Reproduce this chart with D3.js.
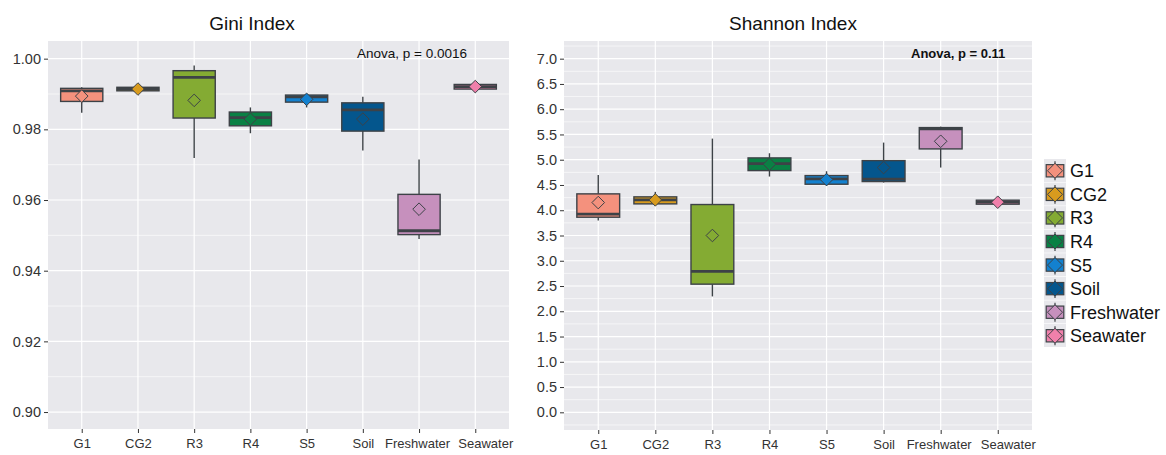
<!DOCTYPE html>
<html><head><meta charset="utf-8">
<script src="https://cdn.jsdelivr.net/npm/d3@7"></script>
<style>
body{margin:0;background:#fff;}
text{font-family:"Liberation Sans",Arial,Helvetica,sans-serif;}
</style></head>
<body><svg id="chart" width="1166" height="455"></svg>
<script>
const categories = ["G1","CG2","R3","R4","S5","Soil","Freshwater","Seawater"];
const colors = ["#F4917D","#D89B1E","#84AB33","#0A8044","#1381CF","#04568D","#C690BD","#F080AB"];

const giniLower  = [0.9847,0.9909,0.9719,0.9789,0.9862,0.9740,0.9490,0.9914];
const giniQ1     = [0.9879,0.9909,0.9832,0.9810,0.9877,0.9795,0.9502,0.9914];
const giniMedian = [0.9909,0.9914,0.9947,0.9833,0.9892,0.9855,0.9513,0.9921];
const giniQ3     = [0.9916,0.9919,0.9966,0.9849,0.9897,0.9875,0.9616,0.9927];
const giniUpper  = [0.9919,0.9919,0.9981,0.9862,0.9900,0.9892,0.9715,0.9927];
const giniMean   = [0.9894,0.9914,0.9882,0.9829,0.9885,0.9829,0.9574,0.9921];

const shanLower  = [3.796,4.093,2.294,4.667,4.482,4.548,4.845,4.120];
const shanQ1     = [3.862,4.126,2.537,4.785,4.515,4.568,5.214,4.120];
const shanMedian = [3.922,4.205,2.788,4.924,4.620,4.614,5.609,4.159];
const shanQ3     = [4.324,4.265,4.113,5.036,4.686,4.983,5.636,4.199];
const shanUpper  = [4.700,4.364,5.418,5.128,4.772,5.339,5.655,4.199];
const shanMean   = [4.152,4.205,3.500,4.911,4.607,4.845,5.365,4.159];

const giniTicks = [0.90,0.92,0.94,0.96,0.98,1.00];
const giniMinor = [0.91,0.93,0.95,0.97,0.99];
const shanTicks = [0,0.5,1,1.5,2,2.5,3,3.5,4,4.5,5,5.5,6,6.5,7];
const shanMinor = [-0.25,0.25,0.75,1.25,1.75,2.25,2.75,3.25,3.75,4.25,4.75,5.25,5.75,6.25,6.75,7.25];

const svg = d3.select("#chart");
const BG = "#E8E8EC", LINE = "#3d4247";

function panel(cfg){
  const g = svg.append("g");
  const x = d3.scalePoint().domain(categories).range([cfg.x0,cfg.x1]).padding(0.6);
  const y = d3.scaleLinear().domain(cfg.domain).range([cfg.y1,cfg.y0]);
  g.append("rect").attr("x",cfg.x0).attr("y",cfg.y0).attr("width",cfg.x1-cfg.x0).attr("height",cfg.y1-cfg.y0).attr("fill",BG);
  g.selectAll(".minor").data(cfg.minor).join("line")
    .attr("x1",cfg.x0).attr("x2",cfg.x1).attr("y1",d=>y(d)).attr("y2",d=>y(d))
    .attr("stroke","#fff").attr("stroke-width",0.6);
  g.selectAll(".major").data(cfg.ticks).join("line")
    .attr("x1",cfg.x0).attr("x2",cfg.x1).attr("y1",d=>y(d)).attr("y2",d=>y(d))
    .attr("stroke","#fff").attr("stroke-width",1.2);
  g.selectAll(".vmajor").data(categories).join("line")
    .attr("x1",d=>x(d)).attr("x2",d=>x(d)).attr("y1",cfg.y0).attr("y2",cfg.y1)
    .attr("stroke","#fff").attr("stroke-width",1.2);

  const yAxis = d3.axisLeft(y).tickValues(cfg.ticks).tickFormat(d3.format(cfg.fmt)).tickSize(4).tickPadding(3);
  const ya = g.append("g").attr("transform",`translate(${cfg.x0},0)`).call(yAxis);
  ya.select(".domain").remove();
  ya.selectAll("line").attr("stroke","#333");
  ya.selectAll("text").attr("font-size",cfg.yfs).attr("fill","#333");
  const xAxis = d3.axisBottom(x).tickSize(4).tickPadding(6);
  const xa = g.append("g").attr("transform",`translate(0,${cfg.y1})`).call(xAxis);
  xa.select(".domain").remove();
  xa.selectAll("line").attr("stroke","#333");
  xa.selectAll("text").attr("font-size",13).attr("fill","#333")
    .attr("dx",c=>c==="Seawater"?10:(c==="Freshwater"?-2:0));

  const bw = x.step()*0.75;
  const d = categories.map((c,i)=>({c,i,lo:cfg.lo[i],q1:cfg.q1[i],med:cfg.med[i],q3:cfg.q3[i],hi:cfg.hi[i],mean:cfg.mean[i]}));
  const bx = g.selectAll(".box").data(d).join("g");
  bx.append("line").attr("x1",e=>x(e.c)).attr("x2",e=>x(e.c)).attr("y1",e=>y(e.hi)).attr("y2",e=>y(e.q3)).attr("stroke",LINE).attr("stroke-width",1.4);
  bx.append("line").attr("x1",e=>x(e.c)).attr("x2",e=>x(e.c)).attr("y1",e=>y(e.q1)).attr("y2",e=>y(e.lo)).attr("stroke",LINE).attr("stroke-width",1.4);
  bx.append("rect").attr("x",e=>x(e.c)-bw/2).attr("width",bw)
    .attr("y",e=>y(e.q3)).attr("height",e=>Math.max(0.5,y(e.q1)-y(e.q3)))
    .attr("fill",e=>colors[e.i]).attr("stroke",LINE).attr("stroke-width",1.4);
  bx.append("line").attr("x1",e=>x(e.c)-bw/2).attr("x2",e=>x(e.c)+bw/2).attr("y1",e=>y(e.med)).attr("y2",e=>y(e.med)).attr("stroke",LINE).attr("stroke-width",2.8);
  bx.append("path").attr("d",e=>{const cx=x(e.c),cy=y(e.mean),r=6.3;return `M${cx},${cy-r}L${cx+r},${cy}L${cx},${cy+r}L${cx-r},${cy}Z`;})
    .attr("fill",e=>colors[e.i]).attr("stroke",LINE).attr("stroke-width",1);

  svg.append("text").attr("x",cfg.titleX).attr("y",29.5).attr("text-anchor","middle").attr("font-size",19).attr("fill","#111").text(cfg.title);
  svg.append("text").attr("x",cfg.annX).attr("y",58).attr("font-size",cfg.annFs).attr("font-weight",cfg.annW).attr("fill","#111").text(cfg.ann);
}

panel({x0:48,x1:509,y0:41,y1:429,domain:[0.8952,1.005],ticks:giniTicks,minor:giniMinor,fmt:".2f",yfs:14.5,
  lo:giniLower,q1:giniQ1,med:giniMedian,q3:giniQ3,hi:giniUpper,mean:giniMean,
  title:"Gini Index",titleX:252,ann:"Anova, p = 0.0016",annX:357,annFs:13.5,annW:"normal"});
panel({x0:564,x1:1032,y0:41,y1:430,domain:[-0.35,7.35],ticks:shanTicks,minor:shanMinor,fmt:".1f",yfs:14.5,
  lo:shanLower,q1:shanQ1,med:shanMedian,q3:shanQ3,hi:shanUpper,mean:shanMean,
  title:"Shannon Index",titleX:793,ann:"Anova, p = 0.11",annX:911,annFs:13,annW:"bold"});

// legend
const rowH = 23.57, ly0 = 159, kx = 1044, kw = 22;
const lg = svg.append("g");
const items = lg.selectAll("g").data(categories).join("g").attr("transform",(c,i)=>`translate(${kx},${ly0+i*rowH})`);
items.append("rect").attr("width",kw).attr("height",rowH-0.6).attr("fill",BG);
items.append("line").attr("x1",kw/2).attr("x2",kw/2).attr("y1",rowH*0.1).attr("y2",rowH*0.9).attr("stroke",LINE).attr("stroke-width",1.2);
items.append("rect").attr("x",kw*0.1).attr("width",kw*0.8).attr("y",rowH*0.24).attr("height",rowH*0.52)
  .attr("fill",(c,i)=>colors[i]).attr("stroke",LINE).attr("stroke-width",1.2);
items.append("path").attr("d",()=>{const cx=kw/2,cy=rowH/2,r=7.5;return `M${cx},${cy-r}L${cx+r},${cy}L${cx},${cy+r}L${cx-r},${cy}Z`;})
  .attr("fill",(c,i)=>colors[i]).attr("stroke",LINE).attr("stroke-width",1);
items.append("text").attr("x",kw+4).attr("y",rowH/2).attr("dy","0.36em").attr("font-size",18).attr("fill","#111").text(c=>c);
</script></body></html>
